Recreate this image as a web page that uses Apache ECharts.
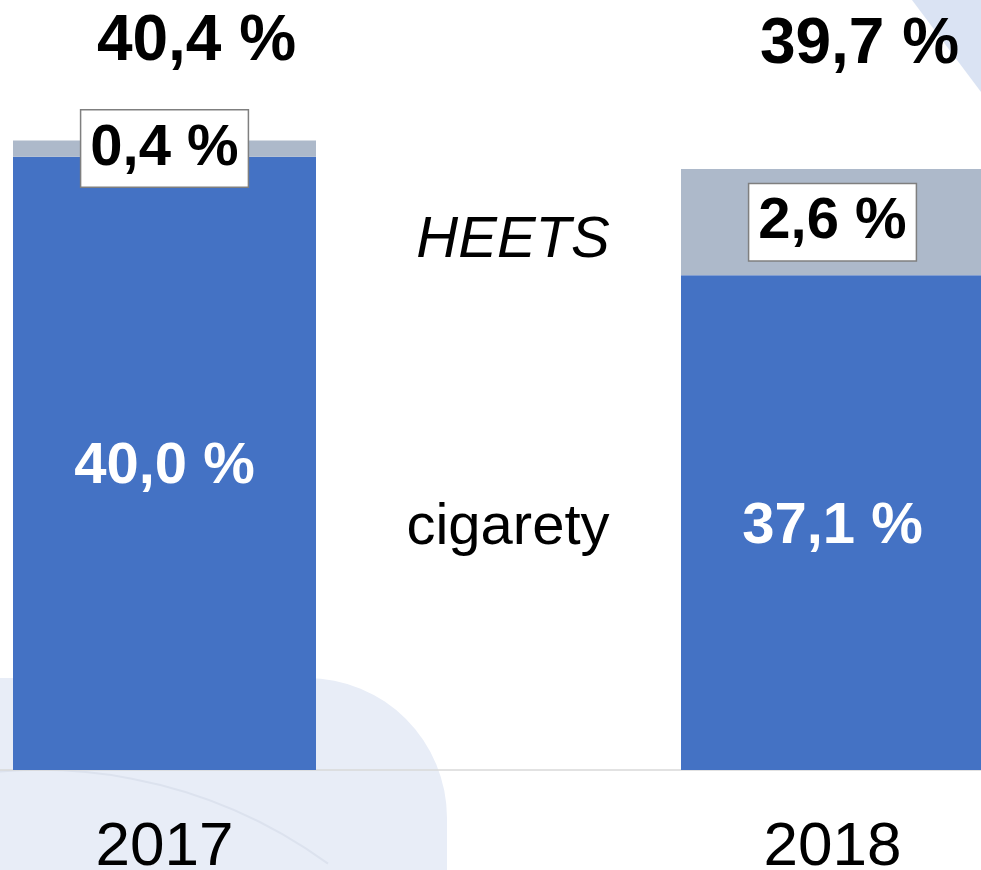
<!DOCTYPE html>
<html>
<head>
<meta charset="utf-8">
<script src="https://cdn.jsdelivr.net/npm/echarts@6/dist/echarts.min.js"></script>
<style>
  html, body { margin: 0; padding: 0; background: #fff; }
  #chart { width: 981px; height: 870px; }
</style>
</head>
<body>
<div id="chart"></div>
<script>
// data
var years = ['2017', '2018'];
var cigarety = [40.0, 37.1];
var heets = [0.4, 2.6];
var totals = [40.4, 39.7];

var FONT = '"Liberation Sans", Arial, sans-serif';
function pct(v) { return v.toFixed(1).replace('.', ',') + ' %'; }

// total labels sit well above the bars, not centred exactly
var totalOffsets = [[32, -98], [27, -124]];
var totalData = [];
for (var i = 0; i < totals.length; i++) {
  totalData.push({ value: totals[i], label: { offset: totalOffsets[i] } });
}

var myChart = echarts.init(document.getElementById('chart'));
var option = {
  backgroundColor: '#ffffff',
  animation: false,
  // faint slide background shapes
  graphic: [
    { type: 'rect', z: -10, silent: true,
      shape: { x: -200, y: 678, width: 647, height: 400, r: [0, 140, 0, 0] },
      style: { fill: '#E8EDF7' } },
    { type: 'arc', z: -9, silent: true,
      shape: { cx: 40, cy: 1260, r: 490, startAngle: -Math.PI * 0.58, endAngle: -Math.PI * 0.3 },
      style: { stroke: '#DCE2EE', lineWidth: 2, fill: null } },
    { type: 'polygon', z: -10, silent: true,
      shape: { points: [[912, 0], [981, 0], [981, 92]] },
      style: { fill: '#DAE3F3' } },
    { type: 'text', z: 10,
      style: { x: 513, y: 241, text: 'HEETS', fontFamily: FONT, fontSize: 58, fontStyle: 'italic',
               fill: '#000', textAlign: 'center', textVerticalAlign: 'middle' } },
    { type: 'text', z: 10,
      style: { x: 508, y: 528, text: 'cigarety', fontFamily: FONT, fontSize: 58,
               fill: '#000', textAlign: 'center', textVerticalAlign: 'middle' } }
  ],
  grid: { left: -169.5, width: 1336, top: 75, bottom: 100, outerBoundsMode: 'none', containLabel: false },
  xAxis: {
    type: 'category',
    data: years,
    axisTick: { show: false },
    axisLine: { show: true, lineStyle: { color: '#D9D9D9', width: 1.5 } },
    axisLabel: { color: '#000', fontFamily: FONT, fontSize: 62, margin: 47 }
  },
  yAxis: {
    type: 'value',
    min: 25,
    max: 42,
    show: false,
    splitLine: { show: false }
  },
  series: [
    {
      name: 'cigarety',
      type: 'bar',
      stack: 'a',
      barWidth: 303,
      data: cigarety,
      itemStyle: { color: '#4472C4' },
      label: {
        show: true, position: 'inside', offset: [0, 4], color: '#fff', fontFamily: FONT,
        fontSize: 58, fontWeight: 'bold',
        formatter: function (p) { return pct(p.value); }
      }
    },
    {
      name: 'HEETS',
      type: 'bar',
      stack: 'a',
      barWidth: 303,
      data: heets,
      itemStyle: { color: '#ADB9CA' },
      label: {
        show: true, position: 'inside', color: '#000', fontFamily: FONT,
        fontSize: 58, fontWeight: 'bold', lineHeight: 58,
        backgroundColor: '#fff', borderColor: '#7F7F7F', borderWidth: 1.5,
        padding: [9, 9, 9, 9],
        formatter: function (p) { return pct(p.value); }
      }
    },
    {
      name: 'celkem',
      type: 'scatter',
      symbolSize: 0,
      data: totalData,
      itemStyle: { color: 'transparent', opacity: 1 },
      label: {
        show: true, position: 'inside', color: '#000', fontFamily: FONT,
        fontSize: 64, fontWeight: 'bold',
        formatter: function (p) { return pct(p.value); }
      }
    }
  ]
};
myChart.setOption(option);
</script>
</body>
</html>
